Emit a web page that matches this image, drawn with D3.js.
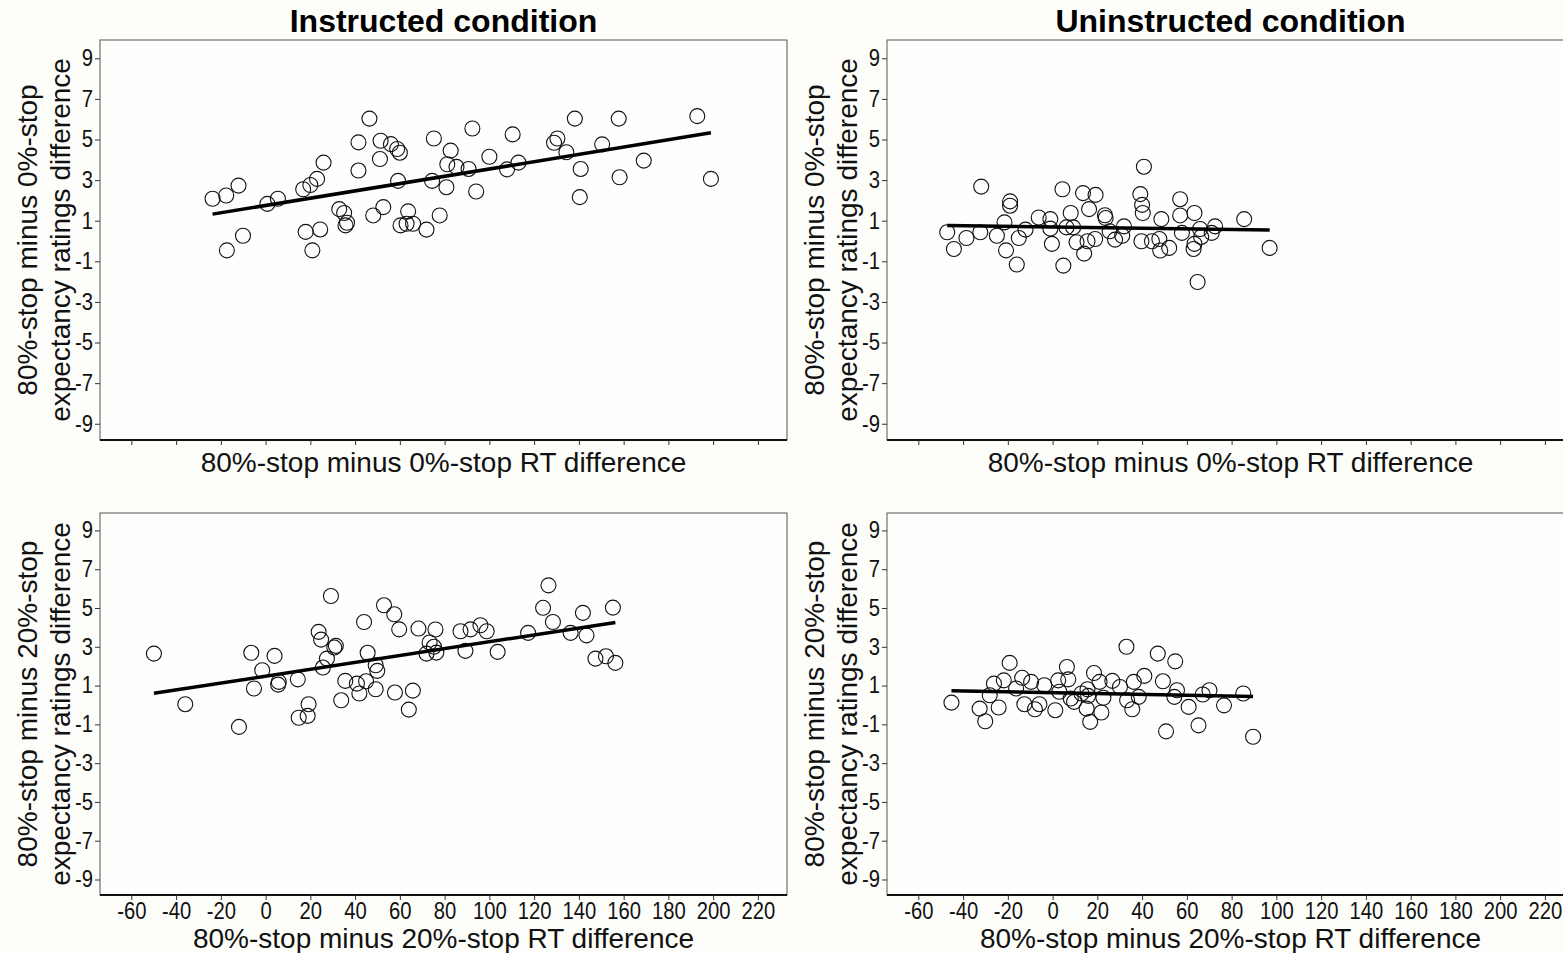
<!DOCTYPE html>
<html>
<head>
<meta charset="utf-8">
<script src="https://cdn.jsdelivr.net/npm/d3@7"></script>
<style>
  body { margin: 0; background: #fdfdfa; }
  svg { display: block; font-family: "Liberation Sans", Arial, sans-serif; }
</style>
</head>
<body>
<div id="chart"></div>
<script>

// ---- data: [RT difference, expectancy rating difference]
const instructed0 = [
    [-23.7, 2.08], [-17.6, 2.24], [-12.1, 2.73], [-17.3, -0.46], [-10.1, 0.26],
    [0.8, 1.83], [5.5, 2.08], [16.8, 2.55], [20.0, 2.76], [23.0, 3.06],
    [25.9, 3.86], [17.9, 0.45], [24.4, 0.57], [20.9, -0.46], [32.9, 1.57],
    [35.1, 1.38], [35.7, 0.77], [36.4, 0.9], [41.5, 4.86], [41.5, 3.47],
    [46.4, 6.03], [48.1, 1.26], [52.6, 1.67], [51.1, 4.04], [51.4, 4.94],
    [56.0, 4.77], [58.8, 4.53], [60.0, 4.35], [59.2, 2.96], [63.7, 1.46],
    [60.3, 0.77], [63.0, 0.85], [65.9, 0.85], [71.9, 0.56], [75.2, 5.05],
    [74.4, 2.96], [77.8, 1.26], [80.8, 2.65], [82.7, 4.45], [81.2, 3.78],
    [85.3, 3.65], [90.7, 3.55], [92.4, 5.54], [110.4, 5.25], [100.0, 4.15],
    [94.1, 2.44], [107.9, 3.53], [113.0, 3.86], [138.2, 6.03], [157.8, 6.03],
    [192.9, 6.15], [128.9, 4.84], [130.4, 5.05], [134.4, 4.37], [150.4, 4.76],
    [140.8, 3.55], [140.4, 2.16], [158.2, 3.14], [169.0, 3.96], [199.0, 3.06]
];

const uninstructed0 = [
    [-47.1, 0.43], [-44.1, -0.39], [-38.5, 0.15], [-32.3, 0.43], [-31.9, 2.68],
    [-24.9, 0.26], [-21.5, 0.92], [-20.8, -0.46], [-19.0, 1.95], [-19.0, 1.74],
    [-16.0, -1.16], [-15.1, 0.15], [-12.1, 0.56], [-6.2, 1.16], [-1.0, 1.08],
    [-1.0, 0.61], [-0.3, -0.14], [4.4, 2.55], [4.8, -1.21], [8.1, 1.38],
    [6.2, 0.67], [9.2, 0.67], [10.7, -0.06], [13.6, 2.36], [19.2, 2.27],
    [16.3, 1.57], [15.6, -0.01], [19.0, 0.10], [14.1, -0.62], [23.7, 1.13],
    [23.4, 1.27], [25.5, 0.48], [27.9, 0.07], [31.9, 0.72], [31.1, 0.26],
    [40.8, 3.66], [39.2, 2.31], [40.0, 1.78], [40.3, 1.38], [39.7, -0.01],
    [44.4, -0.01], [47.7, 0.10], [48.6, 1.08], [48.1, -0.47], [52.1, -0.34],
    [57.0, 2.06], [57.0, 1.26], [57.8, 0.40], [63.4, 1.38], [65.9, 0.59],
    [66.4, 0.20], [63.0, -0.39], [63.4, -0.14], [64.8, -2.02], [71.1, 0.40],
    [72.6, 0.72], [85.6, 1.08], [97.0, -0.34]
];

const instructed20 = [
    [-49.9, 2.65], [-35.9, 0.04], [-11.9, -1.13], [-6.4, 2.69], [-1.5, 1.79],
    [-5.2, 0.85], [4.0, 2.53], [5.9, 1.19], [5.6, 1.05], [14.4, 1.32],
    [19.2, 0.04], [14.8, -0.66], [18.8, -0.56], [29.2, 5.62], [23.7, 3.77],
    [24.8, 3.37], [27.4, 2.39], [25.6, 1.93], [30.7, 2.96], [31.4, 3.05],
    [33.8, 0.24], [35.6, 1.24], [40.8, 1.10], [41.9, 0.59], [44.9, 1.22],
    [49.2, 0.81], [45.6, 2.69], [44.0, 4.28], [49.2, 2.05], [49.9, 1.76],
    [52.9, 5.14], [57.5, 4.68], [59.7, 3.90], [57.8, 0.64], [65.8, 0.74],
    [64.0, -0.24], [68.3, 3.94], [75.9, 3.89], [73.3, 3.22], [75.2, 3.00],
    [71.9, 2.65], [76.3, 2.70], [87.1, 3.80], [91.6, 3.90], [96.0, 4.11],
    [98.8, 3.80], [89.3, 2.79], [103.7, 2.74], [117.3, 3.72], [126.4, 6.17],
    [124.0, 5.01], [128.4, 4.28], [136.3, 3.72], [141.8, 4.75], [143.4, 3.59],
    [155.2, 5.02], [147.4, 2.39], [152.1, 2.51], [156.3, 2.17]
];

const uninstructed20 = [
    [-45.2, 0.12], [-32.6, -0.19], [-30.1, -0.84], [-28.1, 0.50], [-26.2, 1.10],
    [-21.8, 1.27], [-19.2, 2.17], [-24.1, -0.13], [-16.3, 0.85], [-13.6, 1.40],
    [-9.6, 1.19], [-12.6, 0.04], [-7.9, -0.22], [-5.9, 0.04], [-3.7, 1.02],
    [2.5, 1.27], [6.4, 1.96], [7.0, 1.32], [3.0, 0.68], [1.2, -0.27],
    [8.1, 0.33], [9.6, 0.16], [15.6, 0.81], [15.9, 0.47], [15.2, -0.19],
    [16.8, -0.87], [18.5, 1.65], [21.0, 1.19], [21.8, -0.39], [22.7, 0.37],
    [26.7, 1.24], [30.1, 0.93], [33.0, 3.00], [33.3, 0.24], [35.6, -0.22],
    [36.3, 1.19], [38.5, 0.42], [41.0, 1.50], [47.0, 2.65], [49.3, 1.22],
    [50.7, -1.36], [54.8, 2.25], [55.6, 0.76], [54.4, 0.42], [60.8, -0.10],
    [65.2, -1.05], [67.1, 0.54], [70.1, 0.76], [76.6, -0.02], [85.2, 0.59],
    [89.6, -1.64], [12.9, 0.59]
];

// ticks
const xTickValues = [-60, -40, -20, 0, 20, 40, 60, 80, 100, 120, 140, 160, 180, 200, 220];
const yTickValues = [9, 7, 5, 3, 1, -1, -3, -5, -7, -9];

const colTitles = ['Instructed condition', 'Uninstructed condition'];
const xTitles   = ['80%-stop minus 0%-stop RT difference', '80%-stop minus 20%-stop RT difference'];
const yTitles   = [
    ['80%-stop minus 0%-stop', 'expectancy ratings difference'],
    ['80%-stop minus 20%-stop', 'expectancy ratings difference']
];

// ---- layout
const W = 1563, H = 953;
const xDomain = [-74, 233],
      yDomain = [-9.8, 9.9];
const colLeft  = [100, 887],
      panelW   = 687;
const rowTop   = [40, 513],
      rowH     = [400, 382];

const panels = [
    { row: 0, col: 0, data: instructed0 },
    { row: 0, col: 1, data: uninstructed0 },
    { row: 1, col: 0, data: instructed20 },
    { row: 1, col: 1, data: uninstructed20 }
];

// plain hyphen instead of d3's unicode minus
const fmt = d => String(d);

const svg = d3.select('#chart')
    .append('svg')
      .attr('width', W)
      .attr('height', H);

// least squares fit
const fitLine = (pts) => {
    const mx = d3.mean(pts, d => d[0]),
          my = d3.mean(pts, d => d[1]);
    const sxy = d3.sum(pts, d => (d[0] - mx) * (d[1] - my)),
          sxx = d3.sum(pts, d => (d[0] - mx) * (d[0] - mx));
    const b = sxy / sxx, a = my - b * mx;
    const ext = d3.extent(pts, d => d[0]);
    return ext.map(x => [x, a + b * x]);
};

panels.forEach(p => {
    const left = colLeft[p.col],
          top  = rowTop[p.row],
          h    = rowH[p.row];

    const x = d3.scaleLinear().domain(xDomain).range([0, panelW]);
    const y = d3.scaleLinear().domain(yDomain).range([h, 0]);

    const g = svg.append('g')
        .attr('transform', `translate(${left}, ${top})`);

    // frame
    g.append('rect')
        .attr('width', panelW)
        .attr('height', h)
        .attr('fill', '#fefefc')
        .attr('stroke', '#555')
        .attr('stroke-width', 1);

    // y axis
    const yAx = g.append('g')
        .call(d3.axisLeft(y).tickValues(yTickValues).tickFormat(fmt).tickSize(5).tickPadding(3));
    yAx.select('.domain').remove();
    yAx.selectAll('text')
        .attr('font-size', 23)
        .attr('fill', '#111')
        .attr('font-family', null)
        .attr('transform', 'scale(0.88,1)');
    yAx.selectAll('line').attr('stroke', '#333');

    // x axis
    const xAx = g.append('g')
        .attr('transform', `translate(0, ${h})`)
        .call(d3.axisBottom(x)
            .tickValues(xTickValues)
            .tickSize(5)
            .tickPadding(3)
            .tickFormat(p.row === 0 ? '' : fmt));
    xAx.select('.domain').attr('stroke', '#111').attr('stroke-width', 2)
        .attr('d', `M0,0H${panelW}`);
    xAx.selectAll('text')
        .attr('font-size', 23)
        .attr('fill', '#111')
        .attr('font-family', null)
        .attr('transform', 'scale(0.88,1)');
    xAx.selectAll('line').attr('stroke', '#333');

    // points
    g.append('g')
        .selectAll('circle')
        .data(p.data)
        .enter()
        .append('circle')
          .attr('cx', d => x(d[0]))
          .attr('cy', d => y(d[1]))
          .attr('r', 7.5)
          .attr('fill', 'none')
          .attr('stroke', '#111')
          .attr('stroke-width', 1.1);

    // regression line
    g.append('path')
        .datum(fitLine(p.data))
        .attr('d', d3.line().x(d => x(d[0])).y(d => y(d[1])))
        .attr('stroke', '#000')
        .attr('stroke-width', 3.5)
        .attr('fill', 'none');

    // x title
    g.append('text')
        .attr('x', panelW / 2)
        .attr('y', p.row === 0 ? h + 32 : h + 53)
        .attr('text-anchor', 'middle')
        .attr('font-size', 28)
        .attr('fill', '#111')
        .text(xTitles[p.row]);

    // y title (two lines), second line baseline nearest the axis
    const yt = g.append('text')
        .attr('transform', `translate(${-30}, ${h / 2}) rotate(-90)`)
        .attr('text-anchor', 'middle')
        .attr('font-size', 28)
        .attr('fill', '#111');
    yt.append('tspan').attr('x', 0).attr('y', -33).text(yTitles[p.row][0]);
    yt.append('tspan').attr('x', 0).attr('y', 0).text(yTitles[p.row][1]);

    // column title
    if (p.row === 0) {
        svg.append('text')
            .attr('x', left + panelW / 2)
            .attr('y', 32)
            .attr('text-anchor', 'middle')
            .attr('font-size', 32)
            .attr('font-weight', 'bold')
            .attr('fill', '#000')
            .text(colTitles[p.col]);
    }
});

</script>
</body>
</html>
